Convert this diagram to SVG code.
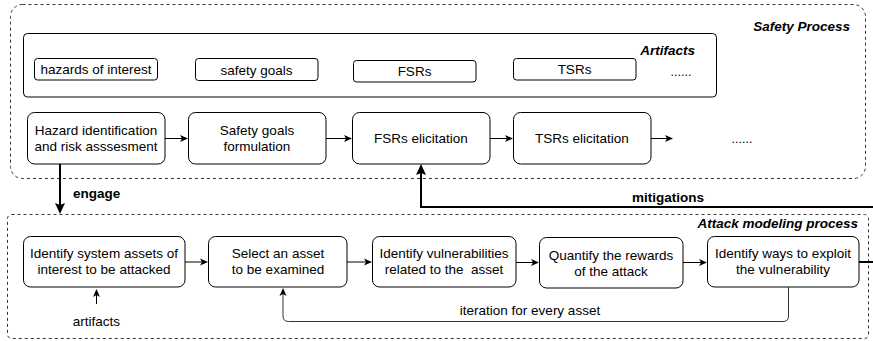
<svg xmlns="http://www.w3.org/2000/svg" width="873" height="341" viewBox="0 0 873 341">
  <style>
    text { font-family: "Liberation Sans", Arial, Helvetica, sans-serif; font-size: 13.5px; fill: #000; }
    .c { text-anchor: middle; }
    .e { text-anchor: end; }
    .bi { font-weight: bold; font-style: italic; }
    .b { font-weight: bold; }
    .dots { font-size: 12.5px; }
    .box { fill: #fff; stroke: #000; stroke-width: 1; }
    .group { fill: none; stroke: #333; stroke-width: 1; stroke-dasharray: 3 3; }
    .thin { fill: none; stroke: #000; stroke-width: 1; }
    .loop { fill: none; stroke: #333; stroke-width: 1; }
    .thick { fill: none; stroke: #000; stroke-width: 2; }
  </style>
  <defs>
    <marker id="arrow" markerUnits="userSpaceOnUse" markerWidth="9" markerHeight="8" refX="2" refY="3.5" orient="auto" overflow="visible">
      <path d="M0,0 L8,3.5 L0,7 L2,3.5 Z" fill="#000"/>
    </marker>
    <marker id="arrowBig" markerUnits="userSpaceOnUse" markerWidth="12" markerHeight="11" refX="2" refY="5" orient="auto" overflow="visible">
      <path d="M0,0 L11,5 L0,10 L2,5 Z" fill="#000"/>
    </marker>
  </defs>

  <!-- process containers -->
  <g id="safety-process">
    <rect class="group" x="10.5" y="4.5" width="855" height="174" rx="12"/>
    <text class="bi e" x="850" y="31">Safety Process</text>
  </g>
  <g id="attack-process">
    <rect class="group" x="7.5" y="214.5" width="861" height="124" rx="4"/>
    <text class="bi e" x="858" y="228">Attack modeling process</text>
  </g>

  <!-- artifacts panel -->
  <g id="artifacts">
    <rect class="box" x="23.5" y="33.5" width="693" height="63.5" rx="4"/>
    <text class="bi e" x="695" y="55">Artifacts</text>
    <text class="c dots" x="681" y="76">......</text>
  </g>
  <g id="artifact-hazards">
    <rect class="box" x="34.5" y="58.5" width="123" height="21.5" rx="3"/>
    <text class="c" x="96" y="74">hazards of interest</text>
  </g>
  <g id="artifact-safety-goals">
    <rect class="box" x="195.5" y="58.5" width="122.5" height="22" rx="3"/>
    <text class="c" x="256.5" y="74.5">safety goals</text>
  </g>
  <g id="artifact-fsrs">
    <rect class="box" x="353.5" y="60.5" width="122.5" height="21.5" rx="3"/>
    <text class="c" x="414.5" y="76">FSRs</text>
  </g>
  <g id="artifact-tsrs">
    <rect class="box" x="513.5" y="58.5" width="122.5" height="21.5" rx="3"/>
    <text class="c" x="574.5" y="74">TSRs</text>
  </g>

  <!-- safety process steps -->
  <g id="hazard-identification">
    <rect class="box" x="27.5" y="112.5" width="137.5" height="51.5" rx="7"/>
    <text class="c" x="96" y="135">Hazard identification</text>
    <text class="c" x="96" y="151">and risk asssesment</text>
  </g>
  <g id="safety-goals-formulation">
    <rect class="box" x="188.5" y="112.5" width="137.5" height="51.5" rx="7"/>
    <text class="c" x="257" y="135">Safety goals</text>
    <text class="c" x="257" y="151">formulation</text>
  </g>
  <g id="fsrs-elicitation">
    <rect class="box" x="352.5" y="112.5" width="137.5" height="51.5" rx="7"/>
    <text class="c" x="421" y="143">FSRs elicitation</text>
  </g>
  <g id="tsrs-elicitation">
    <rect class="box" x="513.5" y="112.5" width="137.5" height="51.5" rx="7"/>
    <text class="c" x="582" y="143">TSRs elicitation</text>
  </g>
  <g id="safety-more">
    <text class="c dots" x="742" y="143">......</text>
  </g>

  <!-- attack modeling steps -->
  <g id="identify-assets">
    <rect class="box" x="23.5" y="236.5" width="161.5" height="50.5" rx="7"/>
    <text class="c" x="104" y="258">Identify system assets of</text>
    <text class="c" x="104" y="274">interest to be attacked</text>
  </g>
  <g id="select-asset">
    <rect class="box" x="208.5" y="236.5" width="138.5" height="50.5" rx="7"/>
    <text class="c" x="278" y="258">Select an asset</text>
    <text class="c" x="278" y="274">to be examined</text>
  </g>
  <g id="identify-vulnerabilities">
    <rect class="box" x="372.5" y="236.5" width="143.5" height="50.5" rx="7"/>
    <text class="c" x="444" y="258">Identify vulnerabilities</text>
    <text class="c" x="444" y="274" xml:space="preserve">related to the  asset</text>
  </g>
  <g id="quantify-rewards">
    <rect class="box" x="539.5" y="237.5" width="143.5" height="50.5" rx="7"/>
    <text class="c" x="611" y="259.5">Quantify the rewards</text>
    <text class="c" x="611" y="275.5">of the attack</text>
  </g>
  <g id="identify-exploits">
    <rect class="box" x="707.5" y="236.5" width="151.5" height="50.5" rx="7"/>
    <text class="c" x="783" y="258">Identify ways to exploit</text>
    <text class="c" x="783" y="274">the vulnerability</text>
  </g>

  <!-- connectors -->
  <g id="connectors">
    <path class="thin" d="M165,138.5 H182" marker-end="url(#arrow)"/>
    <path class="thin" d="M326,138.5 H346" marker-end="url(#arrow)"/>
    <path class="thin" d="M490,138.5 H507" marker-end="url(#arrow)"/>
    <path class="thin" d="M651,138.5 H667" marker-end="url(#arrow)"/>

    <path class="thin" d="M185,262 H202" marker-end="url(#arrow)"/>
    <path class="thin" d="M347,262 H366" marker-end="url(#arrow)"/>
    <path class="thin" d="M516,262.5 H533" marker-end="url(#arrow)"/>
    <path class="thin" d="M683,262.5 H701" marker-end="url(#arrow)"/>

    <path class="thin" d="M96.5,304 V295" marker-end="url(#arrow)"/>
    <path class="loop" d="M788.5,287 V316 Q788.5,321.5 783,321.5 H288.5 Q283,321.5 283,316 V294" marker-end="url(#arrow)"/>

    <path class="thick" d="M60,164 V205" marker-end="url(#arrowBig)"/>
    <path class="thick" d="M859,262 H880 V207 H421 V173" marker-end="url(#arrowBig)"/>
  </g>

  <!-- connector labels -->
  <g id="connector-labels">
    <text class="b" x="73" y="198">engage</text>
    <text class="b c" x="668" y="202">mitigations</text>
    <text class="c" x="530" y="315">iteration for every asset</text>
    <text class="c" x="96.5" y="326">artifacts</text>
  </g>
</svg>
